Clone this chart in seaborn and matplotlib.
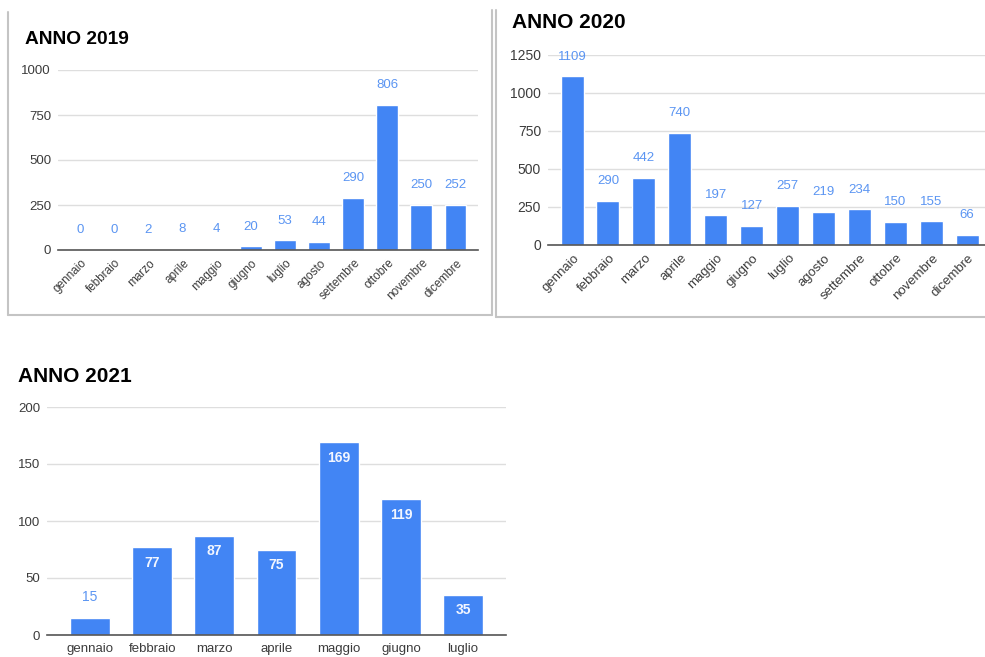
import matplotlib
matplotlib.use("Agg")
import matplotlib.pyplot as plt
import matplotlib.transforms as mtransforms
from matplotlib.lines import Line2D
import seaborn as sns

# Monthly totals
months = ["gennaio", "febbraio", "marzo", "aprile", "maggio", "giugno",
          "luglio", "agosto", "settembre", "ottobre", "novembre", "dicembre"]
values_2019 = [0, 0, 2, 8, 4, 20, 53, 44, 290, 806, 250, 252]
values_2020 = [1109, 290, 442, 740, 197, 127, 257, 219, 234, 150, 155, 66]
months_2021 = months[:7]
values_2021 = [15, 77, 87, 75, 169, 119, 35]

ticks_2019 = [0, 250, 500, 750, 1000]
ticks_2020 = [0, 250, 500, 750, 1000, 1250]
ticks_2021 = [0, 50, 100, 150, 200]

BAR = "#4285F4"
LABEL = "#5B95F2"
W, H = 985, 657

sns.set_theme(style="white")
plt.rcParams["font.family"] = ["Liberation Sans", "DejaVu Sans"]

fig = plt.figure(figsize=(W / 100, H / 100), dpi=100)


def px_axes(x0, x1, ytop, ybot):
    # axes placed in pixel coordinates of the reference
    return fig.add_axes([x0 / W, 1 - ybot / H, (x1 - x0) / W, (ybot - ytop) / H])


def draw(ax, cats, vals, ticks, xlim, rotate, ytick_fs, xtick_fs,
         inside_min=None, label_fs=9.5):
    sns.barplot(x=cats, y=vals, order=cats, color=BAR, saturation=1,
                width=0.64, ax=ax, zorder=3)
    ax.set_ylim(ticks[0], ticks[-1])
    ax.set_xlim(*xlim)
    ax.set_yticks(ticks)
    ax.set_yticklabels([str(t) for t in ticks])
    ax.grid(axis="y", color="#dedede", lw=1, zorder=0)
    ax.grid(axis="x", visible=False)
    for s in ["top", "right", "left"]:
        ax.spines[s].set_visible(False)
    ax.spines["bottom"].set_color("#555555")
    ax.spines["bottom"].set_linewidth(1.2)
    ax.spines["bottom"].set_zorder(4)
    ax.tick_params(axis="y", length=0, pad=5, labelsize=ytick_fs, labelcolor="#3c3c3c")
    ax.tick_params(axis="x", length=0, pad=6, labelsize=xtick_fs, labelcolor="#3c3c3c")
    ax.set_xlabel("")
    ax.set_ylabel("")
    if rotate:
        for lab in ax.get_xticklabels():
            lab.set_rotation(45)
            lab.set_ha("right")
            lab.set_va("center")
            lab.set_rotation_mode("anchor")
            lab.set_transform(lab.get_transform() + mtransforms.ScaledTranslation(
                5 / 100, -3 / 100, fig.dpi_scale_trans))

    bars = ax.containers[0]
    for rect, v in zip(bars, vals):
        cx = rect.get_x() + rect.get_width() / 2
        if inside_min is not None and v >= inside_min:
            ax.annotate(str(v), (cx, v), xytext=(0, -6), textcoords="offset points",
                        ha="center", va="top", color="#F2F6FF",
                        fontsize=label_fs, fontweight="bold", zorder=5)
        else:
            ax.annotate(str(v), (cx, v), xytext=(0, 10), textcoords="offset points",
                        ha="center", va="bottom", color=LABEL,
                        fontsize=label_fs, zorder=5)


ax1 = px_axes(58, 478, 70, 250)
draw(ax1, months, values_2019, ticks_2019, (-0.64, 11.66), True, 9.5, 8.5)

ax2 = px_axes(548, 985, 55, 245)
draw(ax2, months, values_2020, ticks_2020, (-0.67, 11.5), True, 10, 9.5)

ax3 = px_axes(47, 506, 407, 635)
draw(ax3, months_2021, values_2021, ticks_2021, (-0.69, 6.69), False, 9.5, 9.5,
     inside_min=30, label_fs=10)

# titles
fig.text(25 / W, 1 - 39 / H, "ANNO 2019", fontsize=13.8, fontweight="bold",
         va="center", ha="left", color="black")
fig.text(512 / W, 1 - 22 / H, "ANNO 2020", fontsize=15, fontweight="bold",
         va="center", ha="left", color="black")
fig.text(18 / W, 1 - 376 / H, "ANNO 2021", fontsize=15, fontweight="bold",
         va="center", ha="left", color="black")

# screenshot frames around the two upper charts
frame = dict(color="#c4c4c4", lw=1.5, transform=fig.transFigure)
segments = [
    ((8, 8), (12, 315)), ((8, 492), (315, 315)), ((492, 492), (10, 315)),
    ((496, 496), (10, 317)), ((496, 985), (317, 317)),
]
for xs, ys in segments:
    fig.add_artist(Line2D([x / W for x in xs], [1 - y / H for y in ys], **frame))

fig.savefig("out.png", dpi=100)
